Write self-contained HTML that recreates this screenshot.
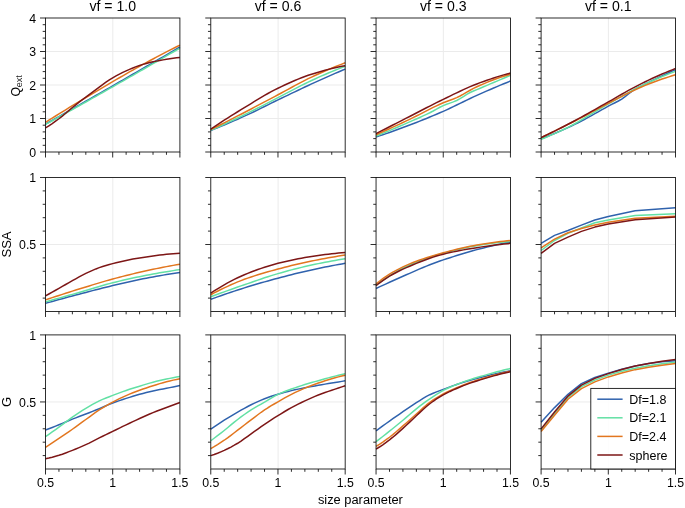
<!DOCTYPE html>
<html><head><meta charset="utf-8"><title>figure</title>
<style>html,body{margin:0;padding:0;background:#fff}svg{display:block}text{font-family:"Liberation Sans",sans-serif;fill:#000}</style></head><body>
<svg width="685" height="508" viewBox="0 0 685 508">
<rect width="685" height="508" fill="#fff"/>
<g>
<line x1="112.8" y1="18" x2="112.8" y2="152" stroke="#ebebeb" stroke-width="1"/>
<line x1="45.5" y1="118.5" x2="179.9" y2="118.5" stroke="#ebebeb" stroke-width="1"/>
<line x1="45.5" y1="85" x2="179.9" y2="85" stroke="#ebebeb" stroke-width="1"/>
<line x1="45.5" y1="51.5" x2="179.9" y2="51.5" stroke="#ebebeb" stroke-width="1"/>
<path d="M45.5,124.18 L48.86,122.27 L52.22,120.37 L55.58,118.46 L58.94,116.56 L62.3,114.65 L65.66,112.74 L69.02,110.83 L72.38,108.92 L75.74,107 L79.1,105.09 L82.46,103.17 L85.82,101.26 L89.18,99.34 L92.54,97.42 L95.9,95.5 L99.26,93.57 L102.62,91.65 L105.98,89.72 L109.34,87.8 L112.7,85.87 L116.06,83.94 L119.42,82.01 L122.78,80.08 L126.14,78.14 L129.5,76.21 L132.86,74.27 L136.22,72.34 L139.58,70.4 L142.94,68.46 L146.3,66.51 L149.66,64.57 L153.02,62.63 L156.38,60.68 L159.74,58.73 L163.1,56.79 L166.46,54.84 L169.82,52.88 L173.18,50.93 L176.54,48.98 L179.9,47.02" fill="none" stroke="#2f62ad" stroke-width="1.5" stroke-linejoin="round"/>
<path d="M45.5,124.46 L48.86,122.6 L52.22,120.74 L55.58,118.87 L58.94,117.01 L62.3,115.14 L65.66,113.26 L69.02,111.39 L72.38,109.51 L75.74,107.63 L79.1,105.75 L82.46,103.86 L85.82,101.98 L89.18,100.09 L92.54,98.19 L95.9,96.3 L99.26,94.4 L102.62,92.5 L105.98,90.6 L109.34,88.69 L112.7,86.78 L116.06,84.87 L119.42,82.96 L122.78,81.04 L126.14,79.13 L129.5,77.2 L132.86,75.28 L136.22,73.35 L139.58,71.43 L142.94,69.49 L146.3,67.56 L149.66,65.62 L153.02,63.68 L156.38,61.74 L159.74,59.8 L163.1,57.85 L166.46,55.9 L169.82,53.95 L173.18,52 L176.54,50.04 L179.9,48.08" fill="none" stroke="#62e0a4" stroke-width="1.5" stroke-linejoin="round"/>
<path d="M45.5,122.32 L48.86,120.21 L52.22,118.1 L55.58,116.01 L58.94,113.93 L62.3,111.85 L65.66,109.78 L69.02,107.72 L72.38,105.67 L75.74,103.63 L79.1,101.6 L82.46,99.57 L85.82,97.55 L89.18,95.54 L92.54,93.53 L95.9,91.54 L99.26,89.55 L102.62,87.56 L105.98,85.58 L109.34,83.61 L112.7,81.65 L116.06,79.69 L119.42,77.73 L122.78,75.79 L126.14,73.85 L129.5,71.93 L132.86,70.03 L136.22,68.14 L139.58,66.27 L142.94,64.42 L146.3,62.59 L149.66,60.78 L153.02,58.98 L156.38,57.19 L159.74,55.42 L163.1,53.66 L166.46,51.92 L169.82,50.19 L173.18,48.48 L176.54,46.79 L179.9,45.11" fill="none" stroke="#e2761f" stroke-width="1.5" stroke-linejoin="round"/>
<path d="M45.5,127.89 L48.86,125.77 L52.22,123.55 L55.58,121.2 L58.94,118.75 L62.3,116.12 L65.66,113.3 L69.02,110.4 L72.38,107.53 L75.74,104.8 L79.1,102.17 L82.46,99.59 L85.82,97.04 L89.18,94.53 L92.54,92.03 L95.9,89.56 L99.26,87.07 L102.62,84.55 L105.98,82.12 L109.34,79.87 L112.7,77.83 L116.06,75.91 L119.42,74.1 L122.78,72.42 L126.14,70.86 L129.5,69.38 L132.86,67.97 L136.22,66.65 L139.58,65.43 L142.94,64.35 L146.3,63.41 L149.66,62.57 L153.02,61.81 L156.38,61.12 L159.74,60.49 L163.1,59.88 L166.46,59.31 L169.82,58.77 L173.18,58.28 L176.54,57.83 L179.9,57.44" fill="none" stroke="#7d1616" stroke-width="1.5" stroke-linejoin="round"/>
<rect x="45.5" y="18" width="134.4" height="134" fill="none" stroke="#111" stroke-width="0.88"/>
<path d="M45.5,152h-5.5M45.5,118.5h-5.5M45.5,85h-5.5M45.5,51.5h-5.5M45.5,18h-5.5M45.5,145.3h-2.8M45.5,138.6h-2.8M45.5,131.9h-2.8M45.5,125.2h-2.8M45.5,111.8h-2.8M45.5,105.1h-2.8M45.5,98.4h-2.8M45.5,91.7h-2.8M45.5,78.3h-2.8M45.5,71.6h-2.8M45.5,64.9h-2.8M45.5,58.2h-2.8M45.5,44.8h-2.8M45.5,38.1h-2.8M45.5,31.4h-2.8M45.5,24.7h-2.8M45.5,152v5.5M58.94,152v2.8M72.38,152v2.8M85.82,152v2.8M99.26,152v2.8M112.7,152v5.5M126.14,152v2.8M139.58,152v2.8M153.02,152v2.8M166.46,152v2.8M179.9,152v5.5" fill="none" stroke="#111" stroke-width="0.88"/>
<text x="36.2" y="156.8" font-size="12.3" text-anchor="end">0</text>
<text x="36.2" y="123.3" font-size="12.3" text-anchor="end">1</text>
<text x="36.2" y="89.8" font-size="12.3" text-anchor="end">2</text>
<text x="36.2" y="56.3" font-size="12.3" text-anchor="end">3</text>
<text x="36.2" y="22.8" font-size="12.3" text-anchor="end">4</text>
<text x="112.7" y="10.9" font-size="14.1" text-anchor="middle">vf = 1.0</text>
</g>
<g>
<line x1="278.08" y1="18" x2="278.08" y2="152" stroke="#ebebeb" stroke-width="1"/>
<line x1="210.78" y1="118.5" x2="345.18" y2="118.5" stroke="#ebebeb" stroke-width="1"/>
<line x1="210.78" y1="85" x2="345.18" y2="85" stroke="#ebebeb" stroke-width="1"/>
<line x1="210.78" y1="51.5" x2="345.18" y2="51.5" stroke="#ebebeb" stroke-width="1"/>
<path d="M210.78,130.45 L214.14,129.12 L217.5,127.76 L220.86,126.38 L224.22,124.98 L227.58,123.56 L230.94,122.12 L234.3,120.66 L237.66,119.19 L241.02,117.69 L244.38,116.18 L247.74,114.64 L251.1,113.06 L254.46,111.45 L257.82,109.81 L261.18,108.16 L264.54,106.5 L267.9,104.84 L271.26,103.18 L274.62,101.54 L277.98,99.91 L281.34,98.3 L284.7,96.68 L288.06,95.06 L291.42,93.44 L294.78,91.83 L298.14,90.22 L301.5,88.63 L304.86,87.05 L308.22,85.48 L311.58,83.93 L314.94,82.4 L318.3,80.87 L321.66,79.36 L325.02,77.86 L328.38,76.37 L331.74,74.89 L335.1,73.42 L338.46,71.96 L341.82,70.52 L345.18,69.09" fill="none" stroke="#2f62ad" stroke-width="1.5" stroke-linejoin="round"/>
<path d="M210.78,130.17 L214.14,128.7 L217.5,127.22 L220.86,125.72 L224.22,124.21 L227.58,122.67 L230.94,121.12 L234.3,119.55 L237.66,117.97 L241.02,116.37 L244.38,114.76 L247.74,113.12 L251.1,111.45 L254.46,109.75 L257.82,108.04 L261.18,106.31 L264.54,104.57 L267.9,102.82 L271.26,101.08 L274.62,99.35 L277.98,97.63 L281.34,95.9 L284.7,94.15 L288.06,92.39 L291.42,90.63 L294.78,88.87 L298.14,87.13 L301.5,85.41 L304.86,83.73 L308.22,82.09 L311.58,80.5 L314.94,78.96 L318.3,77.44 L321.66,75.94 L325.02,74.47 L328.38,73.03 L331.74,71.61 L335.1,70.22 L338.46,68.86 L341.82,67.53 L345.18,66.23" fill="none" stroke="#62e0a4" stroke-width="1.5" stroke-linejoin="round"/>
<path d="M210.78,129.6 L214.14,127.91 L217.5,126.22 L220.86,124.52 L224.22,122.82 L227.58,121.11 L230.94,119.39 L234.3,117.67 L237.66,115.94 L241.02,114.21 L244.38,112.47 L247.74,110.73 L251.1,108.97 L254.46,107.21 L257.82,105.44 L261.18,103.66 L264.54,101.88 L267.9,100.1 L271.26,98.32 L274.62,96.55 L277.98,94.78 L281.34,92.99 L284.7,91.18 L288.06,89.35 L291.42,87.51 L294.78,85.69 L298.14,83.88 L301.5,82.11 L304.86,80.38 L308.22,78.69 L311.58,77.08 L314.94,75.51 L318.3,73.97 L321.66,72.46 L325.02,70.99 L328.38,69.54 L331.74,68.12 L335.1,66.74 L338.46,65.39 L341.82,64.08 L345.18,62.81" fill="none" stroke="#e2761f" stroke-width="1.5" stroke-linejoin="round"/>
<path d="M210.78,129.03 L214.14,126.8 L217.5,124.58 L220.86,122.39 L224.22,120.22 L227.58,118.07 L230.94,115.94 L234.3,113.83 L237.66,111.74 L241.02,109.67 L244.38,107.62 L247.74,105.57 L251.1,103.52 L254.46,101.46 L257.82,99.42 L261.18,97.4 L264.54,95.43 L267.9,93.51 L271.26,91.66 L274.62,89.89 L277.98,88.21 L281.34,86.6 L284.7,85.02 L288.06,83.47 L291.42,81.97 L294.78,80.51 L298.14,79.12 L301.5,77.78 L304.86,76.52 L308.22,75.33 L311.58,74.22 L314.94,73.18 L318.3,72.16 L321.66,71.18 L325.02,70.24 L328.38,69.35 L331.74,68.5 L335.1,67.7 L338.46,66.96 L341.82,66.28 L345.18,65.66" fill="none" stroke="#7d1616" stroke-width="1.5" stroke-linejoin="round"/>
<rect x="210.78" y="18" width="134.4" height="134" fill="none" stroke="#111" stroke-width="0.88"/>
<path d="M210.78,152h-5.5M210.78,118.5h-5.5M210.78,85h-5.5M210.78,51.5h-5.5M210.78,18h-5.5M210.78,145.3h-2.8M210.78,138.6h-2.8M210.78,131.9h-2.8M210.78,125.2h-2.8M210.78,111.8h-2.8M210.78,105.1h-2.8M210.78,98.4h-2.8M210.78,91.7h-2.8M210.78,78.3h-2.8M210.78,71.6h-2.8M210.78,64.9h-2.8M210.78,58.2h-2.8M210.78,44.8h-2.8M210.78,38.1h-2.8M210.78,31.4h-2.8M210.78,24.7h-2.8M210.78,152v5.5M224.22,152v2.8M237.66,152v2.8M251.1,152v2.8M264.54,152v2.8M277.98,152v5.5M291.42,152v2.8M304.86,152v2.8M318.3,152v2.8M331.74,152v2.8M345.18,152v5.5" fill="none" stroke="#111" stroke-width="0.88"/>
<text x="277.98" y="10.9" font-size="14.1" text-anchor="middle">vf = 0.6</text>
</g>
<g>
<line x1="443.35" y1="18" x2="443.35" y2="152" stroke="#ebebeb" stroke-width="1"/>
<line x1="376.05" y1="118.5" x2="510.45" y2="118.5" stroke="#ebebeb" stroke-width="1"/>
<line x1="376.05" y1="85" x2="510.45" y2="85" stroke="#ebebeb" stroke-width="1"/>
<line x1="376.05" y1="51.5" x2="510.45" y2="51.5" stroke="#ebebeb" stroke-width="1"/>
<path d="M376.05,137.02 L379.41,135.9 L382.77,134.76 L386.13,133.6 L389.49,132.42 L392.85,131.23 L396.21,130.02 L399.57,128.8 L402.93,127.56 L406.29,126.3 L409.65,125.03 L413.01,123.74 L416.37,122.44 L419.73,121.12 L423.09,119.78 L426.45,118.43 L429.81,117.05 L433.17,115.65 L436.53,114.23 L439.89,112.79 L443.25,111.33 L446.61,109.82 L449.97,108.26 L453.33,106.66 L456.69,105.03 L460.05,103.38 L463.41,101.73 L466.77,100.09 L470.13,98.47 L473.49,96.88 L476.85,95.35 L480.21,93.85 L483.57,92.36 L486.93,90.89 L490.29,89.44 L493.65,88 L497.01,86.58 L500.37,85.18 L503.73,83.79 L507.09,82.43 L510.45,81.07" fill="none" stroke="#2f62ad" stroke-width="1.5" stroke-linejoin="round"/>
<path d="M376.05,136.16 L379.41,134.79 L382.77,133.4 L386.13,132 L389.49,130.59 L392.85,129.16 L396.21,127.73 L399.57,126.28 L402.93,124.83 L406.29,123.36 L409.65,121.89 L413.01,120.42 L416.37,118.94 L419.73,117.46 L423.09,115.94 L426.45,114.38 L429.81,112.76 L433.17,110.99 L436.53,109.11 L439.89,107.27 L443.25,105.62 L446.61,104.27 L449.97,103.09 L453.33,101.89 L456.69,100.48 L460.05,98.66 L463.41,96.52 L466.77,94.37 L470.13,92.49 L473.49,91.01 L476.85,89.64 L480.21,88.21 L483.57,86.78 L486.93,85.36 L490.29,83.93 L493.65,82.5 L497.01,81.07 L500.37,79.65 L503.73,78.22 L507.09,76.79 L510.45,75.37" fill="none" stroke="#62e0a4" stroke-width="1.5" stroke-linejoin="round"/>
<path d="M376.05,134.74 L379.41,133.25 L382.77,131.74 L386.13,130.23 L389.49,128.71 L392.85,127.17 L396.21,125.62 L399.57,124.06 L402.93,122.49 L406.29,120.91 L409.65,119.32 L413.01,117.69 L416.37,116.01 L419.73,114.3 L423.09,112.56 L426.45,110.83 L429.81,109.11 L433.17,107.43 L436.53,105.8 L439.89,104.24 L443.25,102.77 L446.61,101.44 L449.97,100.23 L453.33,99 L456.69,97.63 L460.05,96 L463.41,94.17 L466.77,92.22 L470.13,90.27 L473.49,88.43 L476.85,86.78 L480.21,85.29 L483.57,83.84 L486.93,82.43 L490.29,81.07 L493.65,79.76 L497.01,78.51 L500.37,77.33 L503.73,76.22 L507.09,75.18 L510.45,74.22" fill="none" stroke="#e2761f" stroke-width="1.5" stroke-linejoin="round"/>
<path d="M376.05,133.59 L379.41,131.88 L382.77,130.17 L386.13,128.46 L389.49,126.74 L392.85,125.03 L396.21,123.32 L399.57,121.61 L402.93,119.89 L406.29,118.18 L409.65,116.47 L413.01,114.75 L416.37,113.01 L419.73,111.27 L423.09,109.53 L426.45,107.79 L429.81,106.06 L433.17,104.35 L436.53,102.65 L439.89,100.98 L443.25,99.34 L446.61,97.71 L449.97,96.07 L453.33,94.43 L456.69,92.8 L460.05,91.2 L463.41,89.63 L466.77,88.11 L470.13,86.64 L473.49,85.25 L476.85,83.93 L480.21,82.67 L483.57,81.45 L486.93,80.25 L490.29,79.1 L493.65,77.98 L497.01,76.91 L500.37,75.88 L503.73,74.9 L507.09,73.97 L510.45,73.08" fill="none" stroke="#7d1616" stroke-width="1.5" stroke-linejoin="round"/>
<rect x="376.05" y="18" width="134.4" height="134" fill="none" stroke="#111" stroke-width="0.88"/>
<path d="M376.05,152h-5.5M376.05,118.5h-5.5M376.05,85h-5.5M376.05,51.5h-5.5M376.05,18h-5.5M376.05,145.3h-2.8M376.05,138.6h-2.8M376.05,131.9h-2.8M376.05,125.2h-2.8M376.05,111.8h-2.8M376.05,105.1h-2.8M376.05,98.4h-2.8M376.05,91.7h-2.8M376.05,78.3h-2.8M376.05,71.6h-2.8M376.05,64.9h-2.8M376.05,58.2h-2.8M376.05,44.8h-2.8M376.05,38.1h-2.8M376.05,31.4h-2.8M376.05,24.7h-2.8M376.05,152v5.5M389.49,152v2.8M402.93,152v2.8M416.37,152v2.8M429.81,152v2.8M443.25,152v5.5M456.69,152v2.8M470.13,152v2.8M483.57,152v2.8M497.01,152v2.8M510.45,152v5.5" fill="none" stroke="#111" stroke-width="0.88"/>
<text x="443.25" y="10.9" font-size="14.1" text-anchor="middle">vf = 0.3</text>
</g>
<g>
<line x1="608.4" y1="18" x2="608.4" y2="152" stroke="#ebebeb" stroke-width="1"/>
<line x1="541.1" y1="118.5" x2="675.5" y2="118.5" stroke="#ebebeb" stroke-width="1"/>
<line x1="541.1" y1="85" x2="675.5" y2="85" stroke="#ebebeb" stroke-width="1"/>
<line x1="541.1" y1="51.5" x2="675.5" y2="51.5" stroke="#ebebeb" stroke-width="1"/>
<path d="M541.1,138.73 L544.46,137.48 L547.82,136.18 L551.18,134.84 L554.54,133.46 L557.9,132.04 L561.26,130.59 L564.62,129.11 L567.98,127.6 L571.34,126.04 L574.7,124.42 L578.06,122.75 L581.42,121.04 L584.78,119.27 L588.14,117.45 L591.5,115.59 L594.86,113.7 L598.22,111.8 L601.58,109.91 L604.94,108.03 L608.3,106.19 L611.66,104.45 L615.02,102.76 L618.38,101 L621.74,99.06 L625.1,96.7 L628.46,94.02 L631.82,91.36 L635.18,89.07 L638.54,87.27 L641.9,85.64 L645.26,83.98 L648.62,82.33 L651.98,80.69 L655.34,79.06 L658.7,77.45 L662.06,75.85 L665.42,74.27 L668.78,72.71 L672.14,71.17 L675.5,69.66" fill="none" stroke="#2f62ad" stroke-width="1.5" stroke-linejoin="round"/>
<path d="M541.1,139.3 L544.46,137.96 L547.82,136.58 L551.18,135.15 L554.54,133.67 L557.9,132.15 L561.26,130.58 L564.62,128.97 L567.98,127.31 L571.34,125.59 L574.7,123.77 L578.06,121.88 L581.42,119.94 L584.78,117.94 L588.14,115.92 L591.5,113.88 L594.86,111.83 L598.22,109.8 L601.58,107.79 L604.94,105.83 L608.3,103.91 L611.66,102.02 L615.02,100.11 L618.38,98.2 L621.74,96.3 L625.1,94.42 L628.46,92.57 L631.82,90.76 L635.18,88.99 L638.54,87.28 L641.9,85.64 L645.26,84.05 L648.62,82.5 L651.98,80.98 L655.34,79.49 L658.7,78.04 L662.06,76.62 L665.42,75.25 L668.78,73.91 L672.14,72.62 L675.5,71.37" fill="none" stroke="#62e0a4" stroke-width="1.5" stroke-linejoin="round"/>
<path d="M541.1,137.59 L544.46,135.99 L547.82,134.37 L551.18,132.74 L554.54,131.1 L557.9,129.45 L561.26,127.79 L564.62,126.12 L567.98,124.44 L571.34,122.74 L574.7,121.04 L578.06,119.31 L581.42,117.55 L584.78,115.78 L588.14,113.99 L591.5,112.19 L594.86,110.39 L598.22,108.6 L601.58,106.82 L604.94,105.07 L608.3,103.34 L611.66,101.61 L615.02,99.87 L618.38,98.12 L621.74,96.38 L625.1,94.66 L628.46,92.97 L631.82,91.33 L635.18,89.74 L638.54,88.22 L641.9,86.78 L645.26,85.41 L648.62,84.07 L651.98,82.76 L655.34,81.49 L658.7,80.26 L662.06,79.08 L665.42,77.94 L668.78,76.84 L672.14,75.79 L675.5,74.8" fill="none" stroke="#e2761f" stroke-width="1.5" stroke-linejoin="round"/>
<path d="M541.1,137.59 L544.46,136 L547.82,134.38 L551.18,132.74 L554.54,131.09 L557.9,129.41 L561.26,127.72 L564.62,126 L567.98,124.27 L571.34,122.52 L574.7,120.75 L578.06,118.95 L581.42,117.11 L584.78,115.24 L588.14,113.35 L591.5,111.44 L594.86,109.53 L598.22,107.61 L601.58,105.69 L604.94,103.79 L608.3,101.91 L611.66,100.03 L615.02,98.12 L618.38,96.19 L621.74,94.27 L625.1,92.36 L628.46,90.47 L631.82,88.61 L635.18,86.8 L638.54,85.05 L641.9,83.36 L645.26,81.72 L648.62,80.12 L651.98,78.55 L655.34,77.01 L658.7,75.5 L662.06,74.03 L665.42,72.59 L668.78,71.19 L672.14,69.83 L675.5,68.52" fill="none" stroke="#7d1616" stroke-width="1.5" stroke-linejoin="round"/>
<rect x="541.1" y="18" width="134.4" height="134" fill="none" stroke="#111" stroke-width="0.88"/>
<path d="M541.1,152h-5.5M541.1,118.5h-5.5M541.1,85h-5.5M541.1,51.5h-5.5M541.1,18h-5.5M541.1,145.3h-2.8M541.1,138.6h-2.8M541.1,131.9h-2.8M541.1,125.2h-2.8M541.1,111.8h-2.8M541.1,105.1h-2.8M541.1,98.4h-2.8M541.1,91.7h-2.8M541.1,78.3h-2.8M541.1,71.6h-2.8M541.1,64.9h-2.8M541.1,58.2h-2.8M541.1,44.8h-2.8M541.1,38.1h-2.8M541.1,31.4h-2.8M541.1,24.7h-2.8M541.1,152v5.5M554.54,152v2.8M567.98,152v2.8M581.42,152v2.8M594.86,152v2.8M608.3,152v5.5M621.74,152v2.8M635.18,152v2.8M648.62,152v2.8M662.06,152v2.8M675.5,152v5.5" fill="none" stroke="#111" stroke-width="0.88"/>
<text x="608.3" y="10.9" font-size="14.1" text-anchor="middle">vf = 0.1</text>
</g>
<g>
<line x1="112.8" y1="177.5" x2="112.8" y2="311.5" stroke="#ebebeb" stroke-width="1"/>
<line x1="45.5" y1="244.5" x2="179.9" y2="244.5" stroke="#ebebeb" stroke-width="1"/>
<path d="M45.5,303.3 L48.86,302.36 L52.22,301.43 L55.58,300.5 L58.94,299.58 L62.3,298.66 L65.66,297.75 L69.02,296.84 L72.38,295.95 L75.74,295.05 L79.1,294.17 L82.46,293.28 L85.82,292.4 L89.18,291.52 L92.54,290.64 L95.9,289.77 L99.26,288.91 L102.62,288.06 L105.98,287.23 L109.34,286.41 L112.7,285.6 L116.06,284.81 L119.42,284.02 L122.78,283.24 L126.14,282.46 L129.5,281.7 L132.86,280.96 L136.22,280.23 L139.58,279.52 L142.94,278.84 L146.3,278.18 L149.66,277.54 L153.02,276.92 L156.38,276.31 L159.74,275.71 L163.1,275.13 L166.46,274.56 L169.82,274.01 L173.18,273.48 L176.54,272.97 L179.9,272.47" fill="none" stroke="#2f62ad" stroke-width="1.5" stroke-linejoin="round"/>
<path d="M45.5,301.87 L48.86,300.94 L52.22,300.01 L55.58,299.08 L58.94,298.14 L62.3,297.2 L65.66,296.25 L69.02,295.31 L72.38,294.36 L75.74,293.41 L79.1,292.45 L82.46,291.48 L85.82,290.49 L89.18,289.48 L92.54,288.47 L95.9,287.46 L99.26,286.46 L102.62,285.48 L105.98,284.53 L109.34,283.61 L112.7,282.75 L116.06,281.92 L119.42,281.11 L122.78,280.32 L126.14,279.54 L129.5,278.79 L132.86,278.06 L136.22,277.35 L139.58,276.66 L142.94,275.98 L146.3,275.33 L149.66,274.69 L153.02,274.06 L156.38,273.45 L159.74,272.85 L163.1,272.27 L166.46,271.71 L169.82,271.16 L173.18,270.63 L176.54,270.11 L179.9,269.62" fill="none" stroke="#62e0a4" stroke-width="1.5" stroke-linejoin="round"/>
<path d="M45.5,299.87 L48.86,298.75 L52.22,297.64 L55.58,296.53 L58.94,295.43 L62.3,294.34 L65.66,293.26 L69.02,292.19 L72.38,291.13 L75.74,290.07 L79.1,289.03 L82.46,287.99 L85.82,286.95 L89.18,285.91 L92.54,284.88 L95.9,283.86 L99.26,282.86 L102.62,281.87 L105.98,280.9 L109.34,279.96 L112.7,279.04 L116.06,278.14 L119.42,277.25 L122.78,276.38 L126.14,275.52 L129.5,274.68 L132.86,273.86 L136.22,273.05 L139.58,272.27 L142.94,271.5 L146.3,270.76 L149.66,270.03 L153.02,269.32 L156.38,268.63 L159.74,267.94 L163.1,267.28 L166.46,266.62 L169.82,265.99 L173.18,265.37 L176.54,264.78 L179.9,264.19" fill="none" stroke="#e2761f" stroke-width="1.5" stroke-linejoin="round"/>
<path d="M45.5,295.88 L48.86,294.01 L52.22,292.13 L55.58,290.24 L58.94,288.34 L62.3,286.43 L65.66,284.49 L69.02,282.56 L72.38,280.67 L75.74,278.8 L79.1,276.94 L82.46,275.14 L85.82,273.44 L89.18,271.86 L92.54,270.35 L95.9,268.93 L99.26,267.65 L102.62,266.51 L105.98,265.48 L109.34,264.53 L112.7,263.62 L116.06,262.76 L119.42,261.93 L122.78,261.15 L126.14,260.43 L129.5,259.75 L132.86,259.11 L136.22,258.51 L139.58,257.94 L142.94,257.42 L146.3,256.94 L149.66,256.47 L153.02,256 L156.38,255.51 L159.74,255.04 L163.1,254.66 L166.46,254.33 L169.82,254.02 L173.18,253.75 L176.54,253.52 L179.9,253.35" fill="none" stroke="#7d1616" stroke-width="1.5" stroke-linejoin="round"/>
<rect x="45.5" y="177.5" width="134.4" height="134" fill="none" stroke="#111" stroke-width="0.88"/>
<path d="M45.5,244.5h-5.5M45.5,177.5h-5.5M45.5,298.1h-2.8M45.5,284.7h-2.8M45.5,271.3h-2.8M45.5,257.9h-2.8M45.5,231.1h-2.8M45.5,217.7h-2.8M45.5,204.3h-2.8M45.5,190.9h-2.8M45.5,311.5v5.5M58.94,311.5v2.8M72.38,311.5v2.8M85.82,311.5v2.8M99.26,311.5v2.8M112.7,311.5v5.5M126.14,311.5v2.8M139.58,311.5v2.8M153.02,311.5v2.8M166.46,311.5v2.8M179.9,311.5v5.5" fill="none" stroke="#111" stroke-width="0.88"/>
<text x="36.2" y="249.3" font-size="12.3" text-anchor="end">0.5</text>
<text x="36.2" y="182.3" font-size="12.3" text-anchor="end">1</text>
</g>
<g>
<line x1="278.08" y1="177.5" x2="278.08" y2="311.5" stroke="#ebebeb" stroke-width="1"/>
<line x1="210.78" y1="244.5" x2="345.18" y2="244.5" stroke="#ebebeb" stroke-width="1"/>
<path d="M210.78,299.3 L214.14,298.08 L217.5,296.88 L220.86,295.69 L224.22,294.52 L227.58,293.37 L230.94,292.24 L234.3,291.12 L237.66,290.02 L241.02,288.94 L244.38,287.89 L247.74,286.84 L251.1,285.82 L254.46,284.81 L257.82,283.82 L261.18,282.84 L264.54,281.88 L267.9,280.93 L271.26,280 L274.62,279.08 L277.98,278.18 L281.34,277.29 L284.7,276.41 L288.06,275.54 L291.42,274.68 L294.78,273.84 L298.14,273.01 L301.5,272.21 L304.86,271.42 L308.22,270.65 L311.58,269.9 L314.94,269.18 L318.3,268.47 L321.66,267.77 L325.02,267.09 L328.38,266.42 L331.74,265.77 L335.1,265.13 L338.46,264.52 L341.82,263.92 L345.18,263.34" fill="none" stroke="#2f62ad" stroke-width="1.5" stroke-linejoin="round"/>
<path d="M210.78,296.73 L214.14,295.5 L217.5,294.27 L220.86,293.05 L224.22,291.83 L227.58,290.63 L230.94,289.44 L234.3,288.25 L237.66,287.07 L241.02,285.91 L244.38,284.75 L247.74,283.59 L251.1,282.42 L254.46,281.25 L257.82,280.09 L261.18,278.95 L264.54,277.82 L267.9,276.71 L271.26,275.64 L274.62,274.61 L277.98,273.61 L281.34,272.66 L284.7,271.72 L288.06,270.8 L291.42,269.9 L294.78,269.03 L298.14,268.18 L301.5,267.36 L304.86,266.56 L308.22,265.79 L311.58,265.05 L314.94,264.33 L318.3,263.64 L321.66,262.95 L325.02,262.29 L328.38,261.65 L331.74,261.03 L335.1,260.43 L338.46,259.85 L341.82,259.3 L345.18,258.77" fill="none" stroke="#62e0a4" stroke-width="1.5" stroke-linejoin="round"/>
<path d="M210.78,294.74 L214.14,292.96 L217.5,291.23 L220.86,289.54 L224.22,287.91 L227.58,286.32 L230.94,284.8 L234.3,283.33 L237.66,281.93 L241.02,280.59 L244.38,279.32 L247.74,278.12 L251.1,276.96 L254.46,275.86 L257.82,274.79 L261.18,273.77 L264.54,272.78 L267.9,271.81 L271.26,270.87 L274.62,269.95 L277.98,269.05 L281.34,268.16 L284.7,267.28 L288.06,266.43 L291.42,265.6 L294.78,264.78 L298.14,263.99 L301.5,263.22 L304.86,262.48 L308.22,261.75 L311.58,261.06 L314.94,260.38 L318.3,259.71 L321.66,259.07 L325.02,258.44 L328.38,257.83 L331.74,257.23 L335.1,256.66 L338.46,256.1 L341.82,255.57 L345.18,255.06" fill="none" stroke="#e2761f" stroke-width="1.5" stroke-linejoin="round"/>
<path d="M210.78,293.02 L214.14,290.88 L217.5,288.8 L220.86,286.77 L224.22,284.82 L227.58,282.93 L230.94,281.13 L234.3,279.4 L237.66,277.76 L241.02,276.21 L244.38,274.76 L247.74,273.38 L251.1,272.04 L254.46,270.76 L257.82,269.54 L261.18,268.36 L264.54,267.24 L267.9,266.18 L271.26,265.17 L274.62,264.23 L277.98,263.34 L281.34,262.5 L284.7,261.69 L288.06,260.92 L291.42,260.18 L294.78,259.47 L298.14,258.8 L301.5,258.17 L304.86,257.57 L308.22,257.01 L311.58,256.49 L314.94,255.99 L318.3,255.51 L321.66,255.04 L325.02,254.6 L328.38,254.18 L331.74,253.78 L335.1,253.41 L338.46,253.08 L341.82,252.77 L345.18,252.49" fill="none" stroke="#7d1616" stroke-width="1.5" stroke-linejoin="round"/>
<rect x="210.78" y="177.5" width="134.4" height="134" fill="none" stroke="#111" stroke-width="0.88"/>
<path d="M210.78,244.5h-5.5M210.78,177.5h-5.5M210.78,298.1h-2.8M210.78,284.7h-2.8M210.78,271.3h-2.8M210.78,257.9h-2.8M210.78,231.1h-2.8M210.78,217.7h-2.8M210.78,204.3h-2.8M210.78,190.9h-2.8M210.78,311.5v5.5M224.22,311.5v2.8M237.66,311.5v2.8M251.1,311.5v2.8M264.54,311.5v2.8M277.98,311.5v5.5M291.42,311.5v2.8M304.86,311.5v2.8M318.3,311.5v2.8M331.74,311.5v2.8M345.18,311.5v5.5" fill="none" stroke="#111" stroke-width="0.88"/>
</g>
<g>
<line x1="443.35" y1="177.5" x2="443.35" y2="311.5" stroke="#ebebeb" stroke-width="1"/>
<line x1="376.05" y1="244.5" x2="510.45" y2="244.5" stroke="#ebebeb" stroke-width="1"/>
<path d="M376.05,288.46 L379.41,286.9 L382.77,285.35 L386.13,283.81 L389.49,282.28 L392.85,280.77 L396.21,279.26 L399.57,277.76 L402.93,276.28 L406.29,274.8 L409.65,273.33 L413.01,271.86 L416.37,270.39 L419.73,268.93 L423.09,267.49 L426.45,266.1 L429.81,264.77 L433.17,263.48 L436.53,262.25 L439.89,261.06 L443.25,259.91 L446.61,258.79 L449.97,257.69 L453.33,256.59 L456.69,255.52 L460.05,254.47 L463.41,253.44 L466.77,252.44 L470.13,251.47 L473.49,250.54 L476.85,249.64 L480.21,248.77 L483.57,247.91 L486.93,247.08 L490.29,246.27 L493.65,245.49 L497.01,244.72 L500.37,243.98 L503.73,243.27 L507.09,242.59 L510.45,241.93" fill="none" stroke="#2f62ad" stroke-width="1.5" stroke-linejoin="round"/>
<path d="M376.05,285.03 L379.41,282.65 L382.77,280.34 L386.13,278.1 L389.49,275.94 L392.85,273.87 L396.21,271.89 L399.57,270.02 L402.93,268.25 L406.29,266.59 L409.65,265.05 L413.01,263.61 L416.37,262.24 L419.73,260.94 L423.09,259.7 L426.45,258.52 L429.81,257.39 L433.17,256.31 L436.53,255.28 L439.89,254.3 L443.25,253.35 L446.61,252.43 L449.97,251.53 L453.33,250.66 L456.69,249.83 L460.05,249.02 L463.41,248.26 L466.77,247.53 L470.13,246.85 L473.49,246.22 L476.85,245.64 L480.21,245.1 L483.57,244.57 L486.93,244.07 L490.29,243.59 L493.65,243.13 L497.01,242.71 L500.37,242.32 L503.73,241.96 L507.09,241.64 L510.45,241.36" fill="none" stroke="#62e0a4" stroke-width="1.5" stroke-linejoin="round"/>
<path d="M376.05,283.89 L379.41,281.23 L382.77,278.7 L386.13,276.34 L389.49,274.19 L392.85,272.2 L396.21,270.33 L399.57,268.55 L402.93,266.89 L406.29,265.34 L409.65,263.91 L413.01,262.57 L416.37,261.28 L419.73,260.06 L423.09,258.89 L426.45,257.76 L429.81,256.69 L433.17,255.66 L436.53,254.66 L439.89,253.7 L443.25,252.78 L446.61,251.88 L449.97,250.99 L453.33,250.14 L456.69,249.3 L460.05,248.5 L463.41,247.74 L466.77,247 L470.13,246.32 L473.49,245.67 L476.85,245.07 L480.21,244.51 L483.57,243.96 L486.93,243.43 L490.29,242.93 L493.65,242.45 L497.01,241.99 L500.37,241.57 L503.73,241.18 L507.09,240.82 L510.45,240.5" fill="none" stroke="#e2761f" stroke-width="1.5" stroke-linejoin="round"/>
<path d="M376.05,285.6 L379.41,283.02 L382.77,280.56 L386.13,278.27 L389.49,276.18 L392.85,274.27 L396.21,272.47 L399.57,270.77 L402.93,269.16 L406.29,267.64 L409.65,266.19 L413.01,264.79 L416.37,263.41 L419.73,262.06 L423.09,260.75 L426.45,259.49 L429.81,258.29 L433.17,257.15 L436.53,256.09 L439.89,255.1 L443.25,254.2 L446.61,253.38 L449.97,252.6 L453.33,251.87 L456.69,251.17 L460.05,250.51 L463.41,249.88 L466.77,249.29 L470.13,248.71 L473.49,248.17 L476.85,247.64 L480.21,247.13 L483.57,246.63 L486.93,246.15 L490.29,245.69 L493.65,245.24 L497.01,244.82 L500.37,244.42 L503.73,244.04 L507.09,243.69 L510.45,243.36" fill="none" stroke="#7d1616" stroke-width="1.5" stroke-linejoin="round"/>
<rect x="376.05" y="177.5" width="134.4" height="134" fill="none" stroke="#111" stroke-width="0.88"/>
<path d="M376.05,244.5h-5.5M376.05,177.5h-5.5M376.05,298.1h-2.8M376.05,284.7h-2.8M376.05,271.3h-2.8M376.05,257.9h-2.8M376.05,231.1h-2.8M376.05,217.7h-2.8M376.05,204.3h-2.8M376.05,190.9h-2.8M376.05,311.5v5.5M389.49,311.5v2.8M402.93,311.5v2.8M416.37,311.5v2.8M429.81,311.5v2.8M443.25,311.5v5.5M456.69,311.5v2.8M470.13,311.5v2.8M483.57,311.5v2.8M497.01,311.5v2.8M510.45,311.5v5.5" fill="none" stroke="#111" stroke-width="0.88"/>
</g>
<g>
<line x1="608.4" y1="177.5" x2="608.4" y2="311.5" stroke="#ebebeb" stroke-width="1"/>
<line x1="541.1" y1="244.5" x2="675.5" y2="244.5" stroke="#ebebeb" stroke-width="1"/>
<path d="M541.1,243.36 L554.54,235.37 L567.98,230.51 L581.42,225.09 L594.86,219.95 L608.3,216.53 L635.18,210.82 L675.5,207.68" fill="none" stroke="#2f62ad" stroke-width="1.5" stroke-linejoin="round"/>
<path d="M541.1,250.49 L554.54,240.5 L567.98,233.37 L581.42,227.94 L594.86,222.81 L608.3,219.95 L635.18,215.39 L675.5,213.67" fill="none" stroke="#62e0a4" stroke-width="1.5" stroke-linejoin="round"/>
<path d="M541.1,247.93 L554.54,239.08 L567.98,232.8 L581.42,228.52 L594.86,225.09 L608.3,222.24 L635.18,218.24 L675.5,216.24" fill="none" stroke="#e2761f" stroke-width="1.5" stroke-linejoin="round"/>
<path d="M541.1,253.35 L554.54,243.36 L567.98,237.08 L581.42,231.37 L594.86,227.09 L608.3,223.95 L635.18,219.67 L675.5,217.1" fill="none" stroke="#7d1616" stroke-width="1.5" stroke-linejoin="round"/>
<rect x="541.1" y="177.5" width="134.4" height="134" fill="none" stroke="#111" stroke-width="0.88"/>
<path d="M541.1,244.5h-5.5M541.1,177.5h-5.5M541.1,298.1h-2.8M541.1,284.7h-2.8M541.1,271.3h-2.8M541.1,257.9h-2.8M541.1,231.1h-2.8M541.1,217.7h-2.8M541.1,204.3h-2.8M541.1,190.9h-2.8M541.1,311.5v5.5M554.54,311.5v2.8M567.98,311.5v2.8M581.42,311.5v2.8M594.86,311.5v2.8M608.3,311.5v5.5M621.74,311.5v2.8M635.18,311.5v2.8M648.62,311.5v2.8M662.06,311.5v2.8M675.5,311.5v5.5" fill="none" stroke="#111" stroke-width="0.88"/>
</g>
<g>
<line x1="112.8" y1="334.9" x2="112.8" y2="469" stroke="#ebebeb" stroke-width="1"/>
<line x1="45.5" y1="401.95" x2="179.9" y2="401.95" stroke="#ebebeb" stroke-width="1"/>
<path d="M45.5,429.96 L48.86,428.73 L52.22,427.46 L55.58,426.15 L58.94,424.82 L62.3,423.43 L65.66,421.99 L69.02,420.54 L72.38,419.15 L75.74,417.83 L79.1,416.56 L82.46,415.29 L85.82,414.01 L89.18,412.7 L92.54,411.38 L95.9,410.05 L99.26,408.69 L102.62,407.27 L105.98,405.8 L109.34,404.36 L112.7,403.02 L116.06,401.79 L119.42,400.62 L122.78,399.5 L126.14,398.41 L129.5,397.34 L132.86,396.29 L136.22,395.29 L139.58,394.33 L142.94,393.43 L146.3,392.56 L149.66,391.74 L153.02,390.97 L156.38,390.26 L159.74,389.61 L163.1,388.97 L166.46,388.31 L169.82,387.62 L173.18,386.91 L176.54,386.2 L179.9,385.47" fill="none" stroke="#2f62ad" stroke-width="1.5" stroke-linejoin="round"/>
<path d="M45.5,436.7 L48.86,434.34 L52.22,431.96 L55.58,429.55 L58.94,427.13 L62.3,424.64 L65.66,422.11 L69.02,419.61 L72.38,417.2 L75.74,414.88 L79.1,412.61 L82.46,410.42 L85.82,408.34 L89.18,406.33 L92.54,404.39 L95.9,402.57 L99.26,400.89 L102.62,399.39 L105.98,398.01 L109.34,396.69 L112.7,395.4 L116.06,394.1 L119.42,392.84 L122.78,391.61 L126.14,390.43 L129.5,389.32 L132.86,388.25 L136.22,387.21 L139.58,386.18 L142.94,385.14 L146.3,384.11 L149.66,383.11 L153.02,382.19 L156.38,381.35 L159.74,380.56 L163.1,379.81 L166.46,379.09 L169.82,378.39 L173.18,377.71 L176.54,377.06 L179.9,376.43" fill="none" stroke="#62e0a4" stroke-width="1.5" stroke-linejoin="round"/>
<path d="M45.5,447.33 L48.86,445.07 L52.22,442.81 L55.58,440.55 L58.94,438.29 L62.3,436.05 L65.66,433.82 L69.02,431.56 L72.38,429.25 L75.74,426.86 L79.1,424.41 L82.46,421.95 L85.82,419.5 L89.18,417.05 L92.54,414.58 L95.9,412.18 L99.26,409.93 L102.62,407.84 L105.98,405.85 L109.34,403.95 L112.7,402.13 L116.06,400.38 L119.42,398.7 L122.78,397.09 L126.14,395.57 L129.5,394.15 L132.86,392.79 L136.22,391.5 L139.58,390.26 L142.94,389.06 L146.3,387.92 L149.66,386.81 L153.02,385.74 L156.38,384.68 L159.74,383.64 L163.1,382.66 L166.46,381.75 L169.82,380.91 L173.18,380.13 L176.54,379.4 L179.9,378.74" fill="none" stroke="#e2761f" stroke-width="1.5" stroke-linejoin="round"/>
<path d="M45.5,458.85 L48.86,458.09 L52.22,457.24 L55.58,456.31 L58.94,455.31 L62.3,454.2 L65.66,452.97 L69.02,451.67 L72.38,450.35 L75.74,449 L79.1,447.62 L82.46,446.18 L85.82,444.67 L89.18,443.07 L92.54,441.37 L95.9,439.64 L99.26,437.94 L102.62,436.29 L105.98,434.65 L109.34,433.02 L112.7,431.38 L116.06,429.73 L119.42,428.08 L122.78,426.44 L126.14,424.82 L129.5,423.22 L132.86,421.64 L136.22,420.07 L139.58,418.53 L142.94,417 L146.3,415.48 L149.66,414.01 L153.02,412.59 L156.38,411.25 L159.74,409.96 L163.1,408.71 L166.46,407.45 L169.82,406.19 L173.18,404.95 L176.54,403.71 L179.9,402.49" fill="none" stroke="#7d1616" stroke-width="1.5" stroke-linejoin="round"/>
<rect x="45.5" y="334.9" width="134.4" height="134.1" fill="none" stroke="#111" stroke-width="0.88"/>
<path d="M45.5,401.95h-5.5M45.5,334.9h-5.5M45.5,455.59h-2.8M45.5,442.18h-2.8M45.5,428.77h-2.8M45.5,415.36h-2.8M45.5,388.54h-2.8M45.5,375.13h-2.8M45.5,361.72h-2.8M45.5,348.31h-2.8M45.5,469v5.5M58.94,469v2.8M72.38,469v2.8M85.82,469v2.8M99.26,469v2.8M112.7,469v5.5M126.14,469v2.8M139.58,469v2.8M153.02,469v2.8M166.46,469v2.8M179.9,469v5.5" fill="none" stroke="#111" stroke-width="0.88"/>
<text x="36.2" y="406.75" font-size="12.3" text-anchor="end">0.5</text>
<text x="36.2" y="339.7" font-size="12.3" text-anchor="end">1</text>
<text x="45.5" y="486.6" font-size="12.3" text-anchor="middle">0.5</text>
<text x="112.7" y="486.6" font-size="12.3" text-anchor="middle">1</text>
<text x="179.9" y="486.6" font-size="12.3" text-anchor="middle">1.5</text>
</g>
<g>
<line x1="278.08" y1="334.9" x2="278.08" y2="469" stroke="#ebebeb" stroke-width="1"/>
<line x1="210.78" y1="401.95" x2="345.18" y2="401.95" stroke="#ebebeb" stroke-width="1"/>
<path d="M210.78,429.08 L214.14,426.79 L217.5,424.55 L220.86,422.36 L224.22,420.21 L227.58,418.1 L230.94,416.03 L234.3,414.02 L237.66,412.06 L241.02,410.15 L244.38,408.29 L247.74,406.49 L251.1,404.79 L254.46,403.17 L257.82,401.61 L261.18,400.13 L264.54,398.77 L267.9,397.5 L271.26,396.31 L274.62,395.2 L277.98,394.16 L281.34,393.19 L284.7,392.28 L288.06,391.42 L291.42,390.61 L294.78,389.85 L298.14,389.13 L301.5,388.44 L304.86,387.78 L308.22,387.13 L311.58,386.5 L314.94,385.89 L318.3,385.29 L321.66,384.7 L325.02,384.12 L328.38,383.55 L331.74,382.99 L335.1,382.44 L338.46,381.9 L341.82,381.38 L345.18,380.86" fill="none" stroke="#2f62ad" stroke-width="1.5" stroke-linejoin="round"/>
<path d="M210.78,440.77 L214.14,438.27 L217.5,435.72 L220.86,433.13 L224.22,430.49 L227.58,427.76 L230.94,424.95 L234.3,422.16 L237.66,419.5 L241.02,416.97 L244.38,414.51 L247.74,412.16 L251.1,409.93 L254.46,407.87 L257.82,405.93 L261.18,404.05 L264.54,402.13 L267.9,400.11 L271.26,398.05 L274.62,396.08 L277.98,394.33 L281.34,392.84 L284.7,391.49 L288.06,390.23 L291.42,389.02 L294.78,387.84 L298.14,386.71 L301.5,385.63 L304.86,384.58 L308.22,383.57 L311.58,382.59 L314.94,381.64 L318.3,380.69 L321.66,379.73 L325.02,378.78 L328.38,377.85 L331.74,376.96 L335.1,376.12 L338.46,375.3 L341.82,374.52 L345.18,373.77" fill="none" stroke="#62e0a4" stroke-width="1.5" stroke-linejoin="round"/>
<path d="M210.78,448.57 L214.14,446.65 L217.5,444.62 L220.86,442.48 L224.22,440.24 L227.58,437.86 L230.94,435.32 L234.3,432.72 L237.66,430.14 L241.02,427.57 L244.38,424.99 L247.74,422.41 L251.1,419.86 L254.46,417.31 L257.82,414.75 L261.18,412.27 L264.54,409.93 L267.9,407.76 L271.26,405.71 L274.62,403.73 L277.98,401.78 L281.34,399.84 L284.7,397.93 L288.06,396.08 L291.42,394.33 L294.78,392.67 L298.14,391.08 L301.5,389.57 L304.86,388.13 L308.22,386.78 L311.58,385.49 L314.94,384.26 L318.3,383.08 L321.66,381.93 L325.02,380.81 L328.38,379.74 L331.74,378.74 L335.1,377.78 L338.46,376.87 L341.82,376 L345.18,375.19" fill="none" stroke="#e2761f" stroke-width="1.5" stroke-linejoin="round"/>
<path d="M210.78,455.66 L214.14,454.49 L217.5,453.21 L220.86,451.82 L224.22,450.35 L227.58,448.76 L230.94,447.05 L234.3,445.21 L237.66,443.26 L241.02,441.1 L244.38,438.73 L247.74,436.28 L251.1,433.86 L254.46,431.46 L257.82,429.03 L261.18,426.62 L264.54,424.29 L267.9,422.04 L271.26,419.85 L274.62,417.7 L277.98,415.6 L281.34,413.53 L284.7,411.49 L288.06,409.51 L291.42,407.63 L294.78,405.84 L298.14,404.13 L301.5,402.48 L304.86,400.89 L308.22,399.34 L311.58,397.84 L314.94,396.4 L318.3,395.04 L321.66,393.77 L325.02,392.57 L328.38,391.41 L331.74,390.26 L335.1,389.12 L338.46,388 L341.82,386.9 L345.18,385.83" fill="none" stroke="#7d1616" stroke-width="1.5" stroke-linejoin="round"/>
<rect x="210.78" y="334.9" width="134.4" height="134.1" fill="none" stroke="#111" stroke-width="0.88"/>
<path d="M210.78,401.95h-5.5M210.78,334.9h-5.5M210.78,455.59h-2.8M210.78,442.18h-2.8M210.78,428.77h-2.8M210.78,415.36h-2.8M210.78,388.54h-2.8M210.78,375.13h-2.8M210.78,361.72h-2.8M210.78,348.31h-2.8M210.78,469v5.5M224.22,469v2.8M237.66,469v2.8M251.1,469v2.8M264.54,469v2.8M277.98,469v5.5M291.42,469v2.8M304.86,469v2.8M318.3,469v2.8M331.74,469v2.8M345.18,469v5.5" fill="none" stroke="#111" stroke-width="0.88"/>
<text x="210.78" y="486.6" font-size="12.3" text-anchor="middle">0.5</text>
<text x="277.98" y="486.6" font-size="12.3" text-anchor="middle">1</text>
<text x="345.18" y="486.6" font-size="12.3" text-anchor="middle">1.5</text>
</g>
<g>
<line x1="443.35" y1="334.9" x2="443.35" y2="469" stroke="#ebebeb" stroke-width="1"/>
<line x1="376.05" y1="401.95" x2="510.45" y2="401.95" stroke="#ebebeb" stroke-width="1"/>
<path d="M376.05,430.85 L379.41,428.38 L382.77,425.93 L386.13,423.5 L389.49,421.1 L392.85,418.72 L396.21,416.36 L399.57,414.02 L402.93,411.7 L406.29,409.39 L409.65,407.09 L413.01,404.84 L416.37,402.66 L419.73,400.53 L423.09,398.41 L426.45,396.43 L429.81,394.69 L433.17,393.2 L436.53,391.87 L439.89,390.62 L443.25,389.37 L446.61,388.11 L449.97,386.86 L453.33,385.65 L456.69,384.5 L460.05,383.39 L463.41,382.31 L466.77,381.28 L470.13,380.3 L473.49,379.36 L476.85,378.46 L480.21,377.6 L483.57,376.75 L486.93,375.92 L490.29,375.1 L493.65,374.31 L497.01,373.54 L500.37,372.8 L503.73,372.08 L507.09,371.38 L510.45,370.71" fill="none" stroke="#2f62ad" stroke-width="1.5" stroke-linejoin="round"/>
<path d="M376.05,441.66 L379.41,439.1 L382.77,436.5 L386.13,433.87 L389.49,431.2 L392.85,428.5 L396.21,425.76 L399.57,423 L402.93,420.21 L406.29,417.37 L409.65,414.48 L413.01,411.62 L416.37,408.87 L419.73,406.21 L423.09,403.62 L426.45,401.13 L429.81,398.77 L433.17,396.51 L436.53,394.33 L439.89,392.29 L443.25,390.43 L446.61,388.77 L449.97,387.25 L453.33,385.82 L456.69,384.46 L460.05,383.15 L463.41,381.9 L466.77,380.71 L470.13,379.59 L473.49,378.53 L476.85,377.53 L480.21,376.57 L483.57,375.6 L486.93,374.61 L490.29,373.63 L493.65,372.67 L497.01,371.77 L500.37,370.92 L503.73,370.1 L507.09,369.32 L510.45,368.58" fill="none" stroke="#62e0a4" stroke-width="1.5" stroke-linejoin="round"/>
<path d="M376.05,446.45 L379.41,444.34 L382.77,442.09 L386.13,439.72 L389.49,437.23 L392.85,434.57 L396.21,431.74 L399.57,428.81 L402.93,425.88 L406.29,422.95 L409.65,419.97 L413.01,416.98 L416.37,414.01 L419.73,410.98 L423.09,407.9 L426.45,404.95 L429.81,402.31 L433.17,399.97 L436.53,397.82 L439.89,395.83 L443.25,393.98 L446.61,392.27 L449.97,390.68 L453.33,389.18 L456.69,387.74 L460.05,386.34 L463.41,385 L466.77,383.72 L470.13,382.51 L473.49,381.38 L476.85,380.3 L480.21,379.27 L483.57,378.26 L486.93,377.26 L490.29,376.27 L493.65,375.33 L497.01,374.43 L500.37,373.57 L503.73,372.76 L507.09,371.98 L510.45,371.24" fill="none" stroke="#e2761f" stroke-width="1.5" stroke-linejoin="round"/>
<path d="M376.05,449.1 L379.41,447.01 L382.77,444.77 L386.13,442.39 L389.49,439.89 L392.85,437.21 L396.21,434.35 L399.57,431.38 L402.93,428.37 L406.29,425.29 L409.65,422.11 L413.01,418.92 L416.37,415.78 L419.73,412.65 L423.09,409.49 L426.45,406.47 L429.81,403.73 L433.17,401.26 L436.53,398.95 L439.89,396.82 L443.25,394.87 L446.61,393.09 L449.97,391.45 L453.33,389.92 L456.69,388.45 L460.05,387.02 L463.41,385.65 L466.77,384.35 L470.13,383.13 L473.49,381.99 L476.85,380.92 L480.21,379.89 L483.57,378.88 L486.93,377.86 L490.29,376.85 L493.65,375.88 L497.01,374.96 L500.37,374.1 L503.73,373.28 L507.09,372.5 L510.45,371.77" fill="none" stroke="#7d1616" stroke-width="1.5" stroke-linejoin="round"/>
<rect x="376.05" y="334.9" width="134.4" height="134.1" fill="none" stroke="#111" stroke-width="0.88"/>
<path d="M376.05,401.95h-5.5M376.05,334.9h-5.5M376.05,455.59h-2.8M376.05,442.18h-2.8M376.05,428.77h-2.8M376.05,415.36h-2.8M376.05,388.54h-2.8M376.05,375.13h-2.8M376.05,361.72h-2.8M376.05,348.31h-2.8M376.05,469v5.5M389.49,469v2.8M402.93,469v2.8M416.37,469v2.8M429.81,469v2.8M443.25,469v5.5M456.69,469v2.8M470.13,469v2.8M483.57,469v2.8M497.01,469v2.8M510.45,469v5.5" fill="none" stroke="#111" stroke-width="0.88"/>
<text x="376.05" y="486.6" font-size="12.3" text-anchor="middle">0.5</text>
<text x="443.25" y="486.6" font-size="12.3" text-anchor="middle">1</text>
<text x="510.45" y="486.6" font-size="12.3" text-anchor="middle">1.5</text>
</g>
<g>
<line x1="608.4" y1="334.9" x2="608.4" y2="469" stroke="#ebebeb" stroke-width="1"/>
<line x1="541.1" y1="401.95" x2="675.5" y2="401.95" stroke="#ebebeb" stroke-width="1"/>
<path d="M541.1,422.32 L554.54,407.61 L567.98,394.31 L581.42,383.68 L594.86,377.47 L608.3,373.1 L621.74,369.2 L635.18,366.01 L648.62,363.61 L662.06,361.81 L675.5,360.74" fill="none" stroke="#2f62ad" stroke-width="1.5" stroke-linejoin="round"/>
<path d="M541.1,429.76 L554.54,413.46 L567.98,397.5 L581.42,386.69 L594.86,380.13 L608.3,375.13 L621.74,371.32 L635.18,368.22 L648.62,365.65 L662.06,363.75 L675.5,362.16" fill="none" stroke="#62e0a4" stroke-width="1.5" stroke-linejoin="round"/>
<path d="M541.1,431.54 L554.54,415.23 L567.98,399.28 L581.42,388.64 L594.86,381.91 L608.3,376.91 L621.74,373.01 L635.18,369.64 L648.62,367.16 L662.06,365.17 L675.5,363.58" fill="none" stroke="#e2761f" stroke-width="1.5" stroke-linejoin="round"/>
<path d="M541.1,428.88 L554.54,412.04 L567.98,396.09 L581.42,385.1 L594.86,378.36 L608.3,373.63 L621.74,369.55 L635.18,366.09 L648.62,363.44 L662.06,361.27 L675.5,359.5" fill="none" stroke="#7d1616" stroke-width="1.5" stroke-linejoin="round"/>
<rect x="541.1" y="334.9" width="134.4" height="134.1" fill="none" stroke="#111" stroke-width="0.88"/>
<path d="M541.1,401.95h-5.5M541.1,334.9h-5.5M541.1,455.59h-2.8M541.1,442.18h-2.8M541.1,428.77h-2.8M541.1,415.36h-2.8M541.1,388.54h-2.8M541.1,375.13h-2.8M541.1,361.72h-2.8M541.1,348.31h-2.8M541.1,469v5.5M554.54,469v2.8M567.98,469v2.8M581.42,469v2.8M594.86,469v2.8M608.3,469v5.5M621.74,469v2.8M635.18,469v2.8M648.62,469v2.8M662.06,469v2.8M675.5,469v5.5" fill="none" stroke="#111" stroke-width="0.88"/>
<text x="541.1" y="486.6" font-size="12.3" text-anchor="middle">0.5</text>
<text x="608.3" y="486.6" font-size="12.3" text-anchor="middle">1</text>
<text x="675.5" y="486.6" font-size="12.3" text-anchor="middle">1.5</text>
</g>
<text transform="translate(20.2,96.4) rotate(-90)" font-size="12.3" text-anchor="start">Q<tspan font-size="9" dx="-0.5" dy="2.1" fill="#222">ext</tspan></text>
<text transform="translate(10.6,244.5) rotate(-90)" font-size="13.1" text-anchor="middle">SSA</text>
<text transform="translate(10.6,401.95) rotate(-90)" font-size="13.1" text-anchor="middle">G</text>
<text x="360.4" y="503.9" font-size="12.85" text-anchor="middle">size parameter</text>
<rect x="590.8" y="388.4" width="84.7" height="80.6" fill="#fff" fill-opacity="0.88" stroke="#111" stroke-width="0.88"/>
<line x1="597.3" y1="399.2" x2="622.6" y2="399.2" stroke="#2f62ad" stroke-width="1.5"/>
<text x="629.3" y="403.7" font-size="12.5">Df=1.8</text>
<line x1="597.3" y1="417.8" x2="622.6" y2="417.8" stroke="#62e0a4" stroke-width="1.5"/>
<text x="629.3" y="422.3" font-size="12.5">Df=2.1</text>
<line x1="597.3" y1="436.4" x2="622.6" y2="436.4" stroke="#e2761f" stroke-width="1.5"/>
<text x="629.3" y="440.9" font-size="12.5">Df=2.4</text>
<line x1="597.3" y1="455" x2="622.6" y2="455" stroke="#7d1616" stroke-width="1.5"/>
<text x="629.3" y="459.5" font-size="12.5">sphere</text>
</svg></body></html>
